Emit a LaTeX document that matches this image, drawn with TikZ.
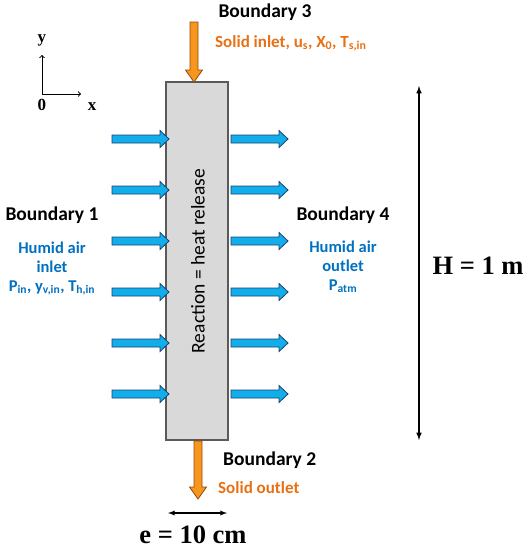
\documentclass[tikz,border=0pt]{standalone}
\usepackage{fontspec}
\newfontfamily\cfont{Carlito}
\newfontfamily\tfont{Liberation Serif}

\definecolor{airblue}{RGB}{18,174,236}
\definecolor{airborder}{RGB}{25,65,110}
\definecolor{airtext}{RGB}{0,112,192}
\definecolor{solidorange}{RGB}{247,150,30}
\definecolor{solidborder}{RGB}{150,75,10}
\definecolor{solidtext}{RGB}{232,112,20}
\definecolor{bedgray}{RGB}{217,217,217}
\definecolor{bedborder}{RGB}{90,90,90}

\tikzset{>=latex}
\tikzset{
  airarrow/.style={fill=airblue,draw=airborder,line width=0.8pt},
  solidarrow/.style={fill=solidorange,draw=solidborder,line width=0.8pt},
  boundary/.style={font=\cfont\bfseries\fontsize{19.5}{19.5}\selectfont,inner sep=0},
  airlabel/.style={font=\cfont\bfseries\fontsize{16.5}{19}\selectfont,text=airtext,inner sep=0,align=center},
  solidlabel/.style={font=\cfont\bfseries\fontsize{17}{19}\selectfont,text=solidtext,inner sep=0},
  dimlabel/.style={font=\tfont\bfseries\fontsize{26.5}{26.5}\selectfont,inner sep=0},
  axislabel/.style={font=\tfont\bfseries\fontsize{17}{17}\selectfont,inner sep=0}
}
\def\shafthalf{4}
\def\headhalf{8.5}

\begin{document}
\begin{tikzpicture}[x=1pt,y=-1pt]
  \useasboundingbox (0,0) rectangle (531,550);
  % packed bed
  \node[draw=bedborder,fill=bedgray,line width=1.2pt,minimum width=62pt,minimum height=358pt,inner sep=0] (bed) at (197,261) {};
  \node[rotate=90,font=\cfont\fontsize{19.5}{19.5}\selectfont,inner sep=0] (reaction) at (198,261) {Reaction = heat release};
  % humid air arrows
  \foreach \Y in {139,190,...,394} {
    \draw[airarrow,shift={(112,\Y)}] (0,-\shafthalf) -- (48,-\shafthalf) -- (48,-\headhalf) -- (57,0) -- (48,\headhalf) -- (48,\shafthalf) -- (0,\shafthalf) -- cycle;
    \draw[airarrow,shift={(231,\Y)}] (0,-\shafthalf) -- (48,-\shafthalf) -- (48,-\headhalf) -- (57,0) -- (48,\headhalf) -- (48,\shafthalf) -- (0,\shafthalf) -- cycle;
  }
  % solid arrows
  \draw[solidarrow,shift={(194,22)}] (-\shafthalf,0) -- (\shafthalf,0) -- (\shafthalf,48) -- (\headhalf,48) -- (0,60) -- (-\headhalf,48) -- (-\shafthalf,48) -- cycle;
  \draw[solidarrow,shift={(198,441)}] (-\shafthalf,0) -- (\shafthalf,0) -- (\shafthalf,46) -- (\headhalf,46) -- (0,58) -- (-\headhalf,46) -- (-\shafthalf,46) -- cycle;
  % axes
  \coordinate (origin) at (42,94);
  \coordinate (yend) at (42,55);
  \coordinate (xend) at (81,94);
  \draw[-to,line width=1pt] (origin) -- (yend);
  \draw[-to,line width=1pt] (origin) -- (xend);
  \node[axislabel,anchor=base] (ylab) at (42,42) {y};
  \node[axislabel,anchor=base] (zero) at (42,110) {0};
  \node[axislabel,anchor=base] (xlab) at (92,110) {x};
  % dimensions
  \coordinate (Htop) at (419,86);
  \coordinate (Hbot) at (419,440);
  \draw[<->,line width=1.5pt] (Htop) -- (Hbot);
  \node[dimlabel,anchor=base] (Hlab) at (478,274) {H = 1 m};
  \coordinate (eleft) at (168,513);
  \coordinate (eright) at (227,513);
  \draw[<->,line width=1.3pt] (eleft) -- (eright);
  \node[dimlabel,anchor=base] (elab) at (193,543) {e = 10 cm};
  % boundaries
  \node[boundary,anchor=base] (b3) at (265,17) {Boundary 3};
  \node[solidlabel,anchor=base west] (inlet) at (215,47) {Solid inlet, u\textsubscript{s}, X\textsubscript{0}, T\textsubscript{s,in}};
  \node[boundary,anchor=base] (b1) at (52,220) {Boundary 1};
  \node[airlabel,anchor=base] (airin) at (52,291) {Humid air\\inlet\\P\textsubscript{in}, y\textsubscript{v,in}, T\textsubscript{h,in}};
  \node[boundary,anchor=base] (b4) at (343,220) {Boundary 4};
  \node[airlabel,anchor=base] (airout) at (343,290) {Humid air\\outlet\\P\textsubscript{atm}};
  \node[boundary,anchor=base west] (b2) at (223,465) {Boundary 2};
  \node[solidlabel,anchor=base west] (outlet) at (218,493) {Solid outlet};
\end{tikzpicture}
\end{document}
